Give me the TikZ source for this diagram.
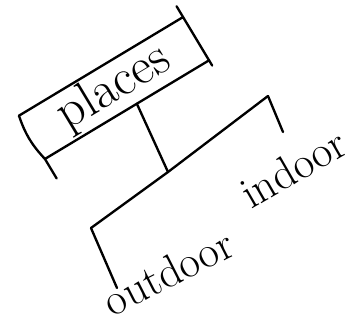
\documentclass[tikz,border=0pt]{standalone}
\usepackage{tikz}
\usetikzlibrary{calc}

\begin{document}
\begin{tikzpicture}[
    x=0.03cm, y=-0.03cm,
    box/.style={rectangle, rotate=31, minimum width=5.73cm, minimum height=1.5cm,
        inner sep=0pt, font=\fontsize{44}{50}\selectfont},
    lbl/.style={inner sep=0pt, font=\fontsize{38}{44}\selectfont},
    pen/.style={line width=2pt, line cap=round, line join=round}
]
\useasboundingbox (0,0) rectangle (361,324);
\node[box] (places) at (114,88) {places};

\draw[pen] (places.north west) -- (places.north east) -- (places.south east) -- (places.south west);
\draw[pen] (places.north west) to[bend right=12] (places.south west);
\draw[pen] (places.north east) -- ($(places.north east)!-0.25!(places.south east)$);
\draw[pen] (places.south east) -- ($(places.south east)!-0.12!(places.north east)$);
\draw[pen] (places.south west) -- ($(places.south west)!-0.45!(places.north west)$);

\coordinate (stem) at ($(places.south west)!0.56!(places.south east)$);
\coordinate (fork) at (168,172);
\coordinate (outtop) at (91,228);
\coordinate (intop) at (268,96);
\coordinate (outend) at (117,288);
\coordinate (inend) at (283,132);

\node[lbl, rotate=27] (outdoor) at (168,272) {outdoor};
\node[lbl, rotate=30] (indoor) at (293,168) {indoor};

\draw[pen] (stem) -- (fork);
\draw[pen] (outtop) -- (fork) -- (intop);
\draw[pen] (outtop) -- (outend);
\draw[pen] (intop) -- (inend);
\end{tikzpicture}
\end{document}
